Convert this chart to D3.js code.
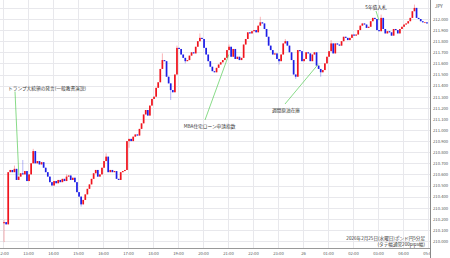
<!DOCTYPE html>
<html>
<head>
<meta charset="utf-8">
<script src="https://cdn.jsdelivr.net/npm/d3@7"></script>
<style>
  body { margin: 0; background: #fff; }
  svg { display: block; }
  text { font-family: "Noto Sans CJK JP", "Noto Sans", sans-serif; }
</style>
</head>
<body>
<svg id="chart" width="450" height="258"></svg>
<script>
// GBP/JPY 5-minute candles, 2026-02-25 12:00 -> 02-26 05:00
const startTime = new Date(2026, 1, 25, 12, 0);
const endTime = new Date(2026, 1, 26, 5, 0);
const firstOpen = 210.16;

// one row per hour, 12 closes each
const closes = [
  210.17,210.15,210.62,210.64,210.62,210.65,210.55,210.58,210.61,210.60,210.63,210.54,
  210.60,210.70,210.81,210.70,210.72,210.69,210.71,210.66,210.62,210.58,210.53,210.50,
  210.54,210.52,210.55,210.53,210.56,210.54,210.58,210.59,210.55,210.57,210.53,210.44,
  210.40,210.33,210.37,210.42,210.47,210.51,210.56,210.61,210.64,210.58,210.60,210.66,
  210.72,210.76,210.62,210.64,210.62,210.63,210.56,210.55,210.62,210.63,210.64,210.90,
  210.92,210.90,210.94,210.96,210.95,211.01,211.06,211.14,211.18,211.13,211.22,211.28,
  211.30,211.38,211.43,211.55,211.63,211.62,211.48,211.42,211.36,211.34,211.50,211.74,
  211.73,211.68,211.65,211.62,211.63,211.67,211.70,211.69,211.75,211.80,211.83,211.82,
  211.74,211.68,211.62,211.57,211.53,211.52,211.56,211.59,211.61,211.63,211.65,211.72,
  211.75,211.66,211.73,211.64,211.66,211.63,211.65,211.77,211.82,211.88,211.87,211.89,
  211.90,211.88,211.94,211.97,211.96,211.91,211.84,211.76,211.72,211.68,211.69,211.64,
  211.62,211.68,211.78,211.80,211.76,211.70,211.63,211.50,211.48,211.72,211.71,211.62,
  211.64,211.70,211.69,211.62,211.68,211.70,211.58,211.55,211.52,211.54,211.60,211.66,
  211.71,211.78,211.69,211.78,211.77,211.76,211.80,211.84,211.83,211.81,211.83,211.86,
  211.85,211.86,211.90,211.94,211.96,211.95,211.92,211.93,211.98,212.01,212.00,211.90,
  211.89,212.01,211.91,211.87,211.89,211.88,211.85,211.91,211.90,211.87,211.91,211.93,
  211.95,211.96,211.98,212.01,212.07,212.10,212.01,212.00,211.98,211.97,211.97,211.96
];

// visible wick extremes [candle index, price]
const highWicks = [[0,210.19],[5,210.68],[9,210.73],[14,210.83],[30,210.60],[49,210.79],
  [76,211.69],[83,211.76],[94,211.87],[108,211.77],[123,212.02],[135,211.82],
  [157,211.81],[181,212.04],[197,212.13]];
const lowWicks = [[0,209.99],[37,210.31],[60,210.84],[80,211.27],[87,211.60],
  [132,211.59],[140,211.46],[152,211.48]];

const priceTicks = [210.0,210.1,210.2,210.3,210.4,210.5,210.6,210.7,210.8,210.9,211.0,
  211.1,211.2,211.3,211.4,211.5,211.6,211.7,211.8,211.9,212.0,212.1];

const noteTexts = ["トランプ大統領の発言(一般教書演説)", "MBA住宅ローン申請指数", "週間原油在庫", "5年債入札"];
const noteTimes = [new Date(2026,1,25,12,38), new Date(2026,1,25,21,2), new Date(2026,1,26,0,36), new Date(2026,1,26,3,2)];
const notePrices = [210.59, 211.68, 211.59, 211.99];

const captionLines = ["2026年2月25日(水曜日)ポンド円5分足", "(タテ幅通常200pips幅)"];

const W = 450, H = 258, plotRight = 430, plotBottom = 248;
const svg = d3.select("#chart");

const x = d3.scaleTime().domain([startTime, endTime]).range([3, 428]);
const y = d3.scaleLinear().domain([210, 212]).range([241, 19]);

svg.append("defs").append("clipPath").attr("id", "plot")
  .append("rect").attr("x", 0).attr("y", 0).attr("width", plotRight).attr("height", plotBottom);

// grid
const grid = svg.append("g").attr("clip-path", "url(#plot)");
grid.selectAll(".hg").data(priceTicks).enter().append("line")
  .attr("x1", 0).attr("x2", plotRight)
  .attr("y1", d => Math.round(y(d)) + 0.5).attr("y2", d => Math.round(y(d)) + 0.5)
  .style("stroke", "#e8e8ec").style("stroke-width", 1);
const hours = d3.timeHour.range(startTime, d3.timeHour.offset(endTime, 1));
grid.selectAll(".vg").data(hours).enter().append("line")
  .attr("x1", d => Math.round(x(d)) + 0.5).attr("x2", d => Math.round(x(d)) + 0.5)
  .attr("y1", 0).attr("y2", plotBottom)
  .style("stroke", "#e8e8ec").style("stroke-width", 1);

// candles
const hiMap = new Map(highWicks), loMap = new Map(lowWicks);
const candles = closes.map((c, i) => {
  const o = i === 0 ? firstOpen : closes[i - 1];
  return {
    t: d3.timeMinute.offset(startTime, 5 * i), o, c,
    h: Math.max(o, c, hiMap.get(i) || 0),
    l: Math.min(o, c, loMap.get(i) || 999)
  };
});
const upColor = "#f0141e", downColor = "#1e1ee6";
const cg = svg.append("g").attr("clip-path", "url(#plot)");
cg.selectAll(".wick").data(candles).enter().append("line")
  .attr("x1", d => x(d.t) + 1.05).attr("x2", d => x(d.t) + 1.05)
  .attr("y1", d => y(d.h)).attr("y2", d => y(d.l))
  .style("stroke", d => d.c >= d.o ? upColor : downColor)
  .style("stroke-opacity", 0.55).style("stroke-width", 0.6);
cg.selectAll(".body").data(candles).enter().append("rect")
  .attr("x", d => x(d.t) + 0.2)
  .attr("width", 1.7)
  .attr("y", d => y(Math.max(d.o, d.c)))
  .attr("height", d => Math.max(0.7, Math.abs(y(d.o) - y(d.c))))
  .style("fill", d => d.c >= d.o ? upColor : downColor);

// annotations
const labelPos = [[8, 90, "start", 15, 91.5], [209.5, 128, "middle", 205, 120],
  [286, 112, "middle", 285, 104], [376, 9, "middle", 376, 11]];
const ag = svg.append("g");
noteTexts.forEach((t, i) => {
  const p = labelPos[i];
  ag.append("line")
    .attr("x1", p[3]).attr("y1", p[4])
    .attr("x2", x(noteTimes[i])).attr("y2", y(notePrices[i]))
    .style("stroke", "#55cc55").style("stroke-width", 0.7);
  ag.append("text").attr("x", p[0]).attr("y", p[1]).attr("text-anchor", p[2])
    .style("font-size", "4.7px").style("fill", "#333").text(t);
});

// caption
svg.append("g").selectAll("text").data(captionLines).enter().append("text")
  .attr("x", 425).attr("y", (d, i) => 240 + i * 5.5)
  .attr("text-anchor", "end").style("font-size", "4.6px").style("fill", "#333")
  .text(d => d);

// x axis
const xAxis = d3.axisBottom(x).tickValues(hours).tickSize(0)
  .tickFormat(d => d.getHours() === 0 ? String(d.getDate()) : d3.timeFormat("%H:%M")(d));
const xg = svg.append("g").attr("transform", `translate(0,${plotBottom})`).call(xAxis);
xg.select(".domain").remove();
xg.selectAll("text").attr("dy", "0").attr("y", 7).style("font-size", "4.2px").style("fill", "#555");
svg.append("line").attr("x1", 0).attr("x2", plotRight).attr("y1", plotBottom + 0.5).attr("y2", plotBottom + 0.5)
  .style("stroke", "#999").style("stroke-width", 1);

// right price panel
svg.append("rect").attr("x", plotRight).attr("y", 0).attr("width", W - plotRight).attr("height", H).style("fill", "#fff");
svg.append("line").attr("x1", plotRight + 0.5).attr("x2", plotRight + 0.5).attr("y1", 0).attr("y2", H)
  .style("stroke", "#888").style("stroke-width", 1);
const yAxis = d3.axisRight(y).tickValues(priceTicks.filter(v => v <= 212.0)).tickSize(0).tickFormat(d3.format(".3f"));
const yg = svg.append("g").attr("transform", `translate(${plotRight},0)`).call(yAxis);
yg.select(".domain").remove();
yg.selectAll("text").attr("x", 3).style("font-size", "4.2px").style("fill", "#555");
svg.append("text").attr("x", 435).attr("y", 7.5).style("font-size", "4.5px").style("fill", "#444").text("JPY");
</script>
</body>
</html>
